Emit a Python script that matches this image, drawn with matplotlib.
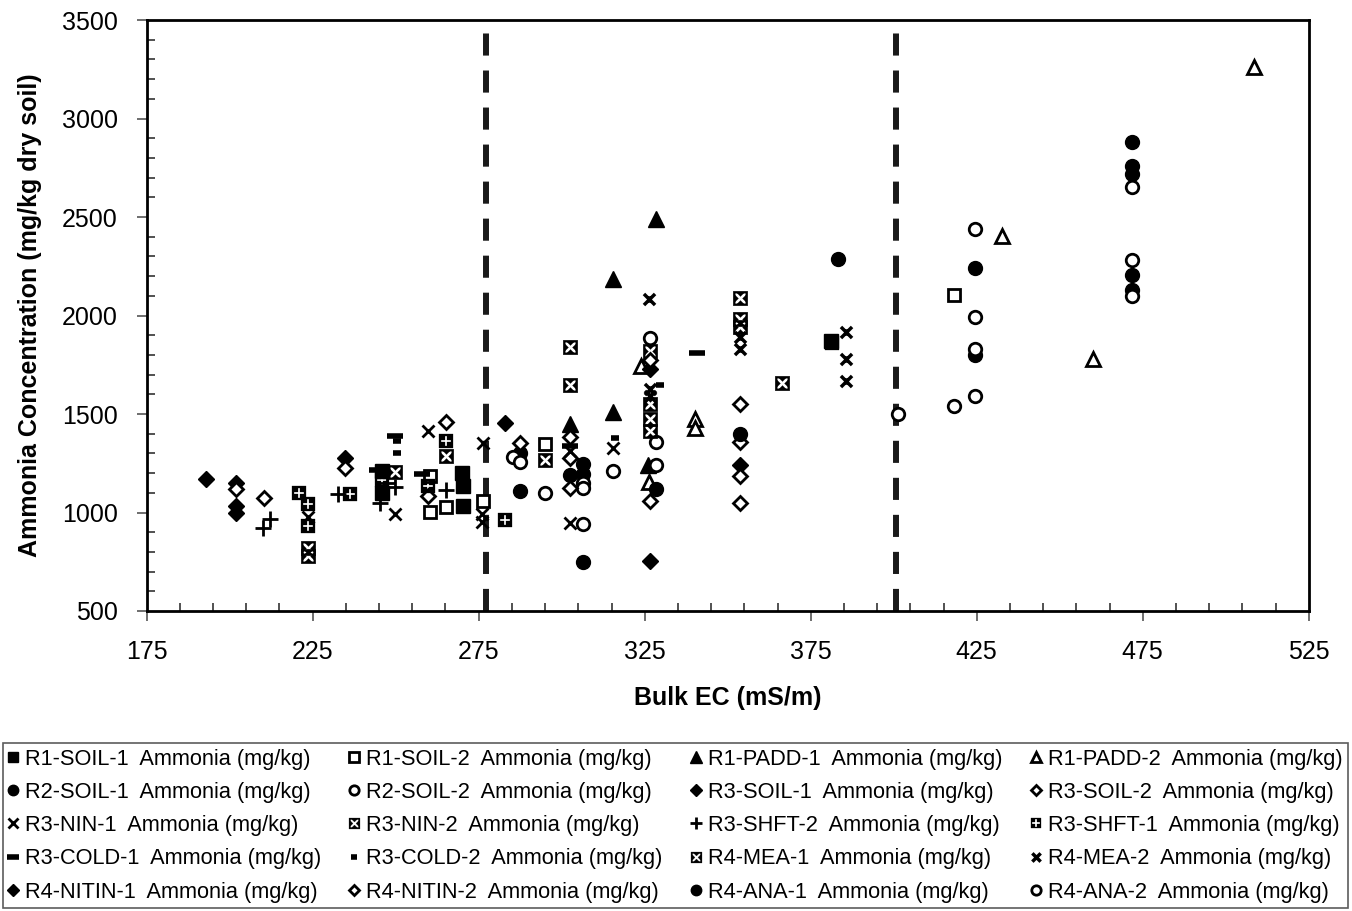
import numpy as np
import matplotlib.pyplot as plt
from matplotlib.path import Path
from matplotlib.ticker import MultipleLocator, FixedLocator

plt.rcParams['font.family'] = 'Liberation Sans'

# ============ Data (Bulk EC mS/m, Ammonia mg/kg) ============
r1_soil1_x = [245.8, 245.8, 269.9, 270.4, 270.4, 381.0]
r1_soil1_y = [1210, 1097, 1199, 1134, 1033, 1872]
r1_soil2_x = [260.3, 260.3, 265.3, 276.2, 295.0, 418.3]
r1_soil2_y = [1185, 1004, 1029, 1058, 1350, 2105]
r1_padd1_x = [302.5, 315.6, 315.6, 328.5, 326.0]
r1_padd1_y = [1450, 1510, 2185, 2490, 1240]
r1_padd2_x = [323.9, 326.3, 340.2, 340.2, 432.5, 459.9, 508.4]
r1_padd2_y = [1745, 1155, 1475, 1430, 2405, 1780, 3260]
r2_soil1_x = [287.4, 287.4, 302.5, 306.5, 306.5, 306.5, 328.5]
r2_soil1_y = [1300, 1110, 1190, 1245, 1195, 750, 1120]
r2_soil2_x = [285.4, 287.4, 295.0, 306.5, 306.5, 306.5, 315.6, 326.5, 328.5, 328.5]
r2_soil2_y = [1282, 1255, 1100, 1150, 1125, 940, 1210, 1885, 1360, 1240]
r3_soil1_x = [192.9, 201.9, 201.9, 201.9, 234.7]
r3_soil1_y = [1168, 1152, 1032, 1000, 1275]
r3_soil2_x = [201.9, 210.4, 234.7, 259.8, 265.3, 287.4, 302.5, 302.5, 302.5]
r3_soil2_y = [1120, 1075, 1228, 1082, 1460, 1355, 1385, 1278, 1125]
r3_nin1_x = [223.7, 249.9, 259.8, 276.0, 276.0, 276.4, 302.5, 302.5, 315.6]
r3_nin1_y = [975, 990, 1415, 990, 952, 1352, 1312, 945, 1325]
r3_nin2_x = [223.7, 223.7, 249.9, 265.3, 295.0]
r3_nin2_y = [820, 780, 1205, 1285, 1265]
r3_shft2_x = [212.1, 210.1, 232.7, 245.3, 249.9, 265.2, 247.5]
r3_shft2_y = [965, 922, 1092, 1050, 1130, 1115, 1150]
r3_shft1_x = [221.0, 223.7, 223.7, 236.2, 245.8, 259.8, 265.3, 282.9, 381.3]
r3_shft1_y = [1100, 1042, 930, 1092, 1165, 1136, 1362, 962, 1858]
r3_cold1_x = [249.9, 244.3, 257.8, 302.5, 340.7]
r3_cold1_y = [1388, 1218, 1195, 1340, 1810]
r3_cold2_x = [250.5, 250.5, 316.1, 329.5]
r3_cold2_y = [1362, 1302, 1378, 1645]
r4_mea1_x = [302.5, 302.5, 326.5, 326.5, 326.5, 326.5, 353.6, 353.6, 353.6, 366.3]
r4_mea1_y = [1838, 1645, 1820, 1550, 1475, 1415, 2090, 1980, 1940, 1655]
r4_mea2_x = [326.4, 326.5, 326.5, 353.6, 353.6, 385.7, 385.7, 385.7]
r4_mea2_y = [2085, 1625, 1590, 1890, 1830, 1915, 1780, 1665]
r4_nitin1_x = [282.9, 326.5, 326.5, 353.6]
r4_nitin1_y = [1455, 1730, 752, 1240]
r4_nitin2_x = [326.5, 326.5, 353.6, 353.6, 353.6, 353.6]
r4_nitin2_y = [1775, 1060, 1552, 1360, 1185, 1050]
r4_ana1_x = [353.6, 383.3, 424.6, 424.6, 471.7, 471.7, 471.7, 471.7, 471.7]
r4_ana1_y = [1400, 2285, 2240, 1800, 2880, 2760, 2720, 2205, 2130]
r4_ana2_x = [401.4, 418.3, 424.6, 424.6, 424.6, 424.6, 471.7, 471.7, 471.7]
r4_ana2_y = [1500, 1540, 2440, 1990, 1832, 1590, 2650, 2280, 2100]

boundaries = [277.3, 400.8]


# ============ Custom markers ============
def rot90(pts, k):
    out = pts
    for _ in range(k):
        out = [(-y, x) for x, y in out]
    return out


def compound(polys):
    verts, codes = [], []
    for p in polys:
        verts += p + [p[0]]
        codes += [Path.MOVETO] + [Path.LINETO] * (len(p) - 1) + [Path.CLOSEPOLY]
    return Path(verts, codes)


def square_with_cut(kind, a=0.72, w=0.2):
    # black square with a white X or + cut out of it
    outer = [(-1, -1), (1, -1), (1, 1), (-1, 1)]
    hole = [(-a, -a), (-a, a), (a, a), (a, -a)]
    if kind == 'x':
        s = w * np.sqrt(2)
        b = a - s
        piece = [(0, s), (b, a), (-b, a)]
    else:
        piece = [(w, w), (a, w), (a, a), (w, a)]
    return compound([outer, hole] + [rot90(piece, k) for k in range(4)])


xsq_marker = square_with_cut('x')
psq_marker = square_with_cut('+')
mea2_marker = Path([(-1, -1), (1, 1), (-1, 1), (1, -1), (0, -0.55), (0, 0.55)],
                   [Path.MOVETO, Path.LINETO, Path.MOVETO, Path.LINETO, Path.MOVETO, Path.LINETO])

filled = dict(mfc='black', mec='black', mew=1)
hollow = dict(mfc='white', mec='black', mew=2)
cutsq = dict(mfc='black', mec='black', mew=0.2, ms=10.5)

series = [
    ('R1-SOIL-1', r1_soil1_x, r1_soil1_y, dict(marker='s', ms=9.5, **filled)),
    ('R1-SOIL-2', r1_soil2_x, r1_soil2_y, dict(marker='s', ms=9, **hollow)),
    ('R1-PADD-1', r1_padd1_x, r1_padd1_y, dict(marker='^', ms=11, **filled)),
    ('R1-PADD-2', r1_padd2_x, r1_padd2_y, dict(marker='^', ms=9.5, **hollow)),
    ('R2-SOIL-1', r2_soil1_x, r2_soil1_y, dict(marker='o', ms=10, **filled)),
    ('R2-SOIL-2', r2_soil2_x, r2_soil2_y, dict(marker='o', ms=9, **hollow)),
    ('R3-SOIL-1', r3_soil1_x, r3_soil1_y, dict(marker='D', ms=8, **filled)),
    ('R3-SOIL-2', r3_soil2_x, r3_soil2_y, dict(marker='D', ms=7, **hollow)),
    ('R3-NIN-1', r3_nin1_x, r3_nin1_y, dict(marker='x', ms=9, mec='black', mew=2)),
    ('R3-NIN-2', r3_nin2_x, r3_nin2_y, dict(marker=xsq_marker, **cutsq)),
    ('R3-SHFT-2', r3_shft2_x, r3_shft2_y, dict(marker='+', ms=11, mec='black', mew=2)),
    ('R3-SHFT-1', r3_shft1_x, r3_shft1_y, dict(marker=psq_marker, **cutsq)),
    ('R3-COLD-1', r3_cold1_x, r3_cold1_y, dict(marker='_', ms=11, mec='black', mew=4)),
    ('R3-COLD-2', r3_cold2_x, r3_cold2_y, dict(marker='_', ms=6, mec='black', mew=4)),
    ('R4-MEA-1', r4_mea1_x, r4_mea1_y, dict(marker=xsq_marker, **cutsq)),
    ('R4-MEA-2', r4_mea2_x, r4_mea2_y, dict(marker=mea2_marker, ms=8, mec='black', mew=2.5)),
    ('R4-NITIN-1', r4_nitin1_x, r4_nitin1_y, dict(marker='D', ms=8, **filled)),
    ('R4-NITIN-2', r4_nitin2_x, r4_nitin2_y, dict(marker='D', ms=7, **hollow)),
    ('R4-ANA-1', r4_ana1_x, r4_ana1_y, dict(marker='o', ms=10, **filled)),
    ('R4-ANA-2', r4_ana2_x, r4_ana2_y, dict(marker='o', ms=9, **hollow)),
]

# ============ Figure ============
fig = plt.figure(figsize=(13.52, 9.11), dpi=100)
ax = fig.add_axes([146.7 / 1352, 1 - 611 / 911, (1308.7 - 146.7) / 1352, (611 - 20) / 911])

handles, labels = [], []
for name, xs, ys, st in series:
    h, = ax.plot(xs, ys, linestyle='none', zorder=3, **st)
    handles.append(h)
    labels.append(f'{name}  Ammonia (mg/kg)')

for b in boundaries:
    ax.axvline(b, color='#1a1a1a', lw=4.3, dashes=(3.7, 2.5), zorder=2)

ax.set_xlim(175, 525)
ax.set_ylim(500, 3500)
ax.xaxis.set_major_locator(FixedLocator(np.arange(175, 526, 50)))
ax.xaxis.set_minor_locator(FixedLocator(np.arange(185, 525, 10)))
ax.yaxis.set_major_locator(MultipleLocator(500))
ax.yaxis.set_minor_locator(MultipleLocator(100))
ax.tick_params(which='major', direction='out', length=7, width=1.2, color='#555555',
               labelsize=18, pad=14)
ax.tick_params(which='minor', direction='in', length=6, width=1.2, color='#333333')
for s in ax.spines.values():
    s.set_linewidth(2)

ax.set_xlabel('Bulk EC (mS/m)', fontsize=18, fontweight='bold', labelpad=16)
ax.set_ylabel('Ammonia Concentration (mg/kg dry soil)', fontsize=18, fontweight='bold', labelpad=14)

# legend is filled column by column, so reorder to read row by row
ncol, nrow = 4, 5
order = [r * ncol + c for c in range(ncol) for r in range(nrow)]
leg = fig.legend([handles[i] for i in order], [labels[i] for i in order],
                 loc='lower left', bbox_to_anchor=(3 / 1352, 3 / 911, 1345 / 1352, 166 / 911),
                 mode='expand', ncol=ncol, fontsize=15.7, frameon=True, fancybox=False,
                 edgecolor='#333333', handlelength=0.4, handletextpad=0.35,
                 labelspacing=0.56, borderpad=0.25, borderaxespad=0, markerscale=0.75)
leg.get_frame().set_linewidth(1.2)

fig.savefig('out.png', dpi=100)
